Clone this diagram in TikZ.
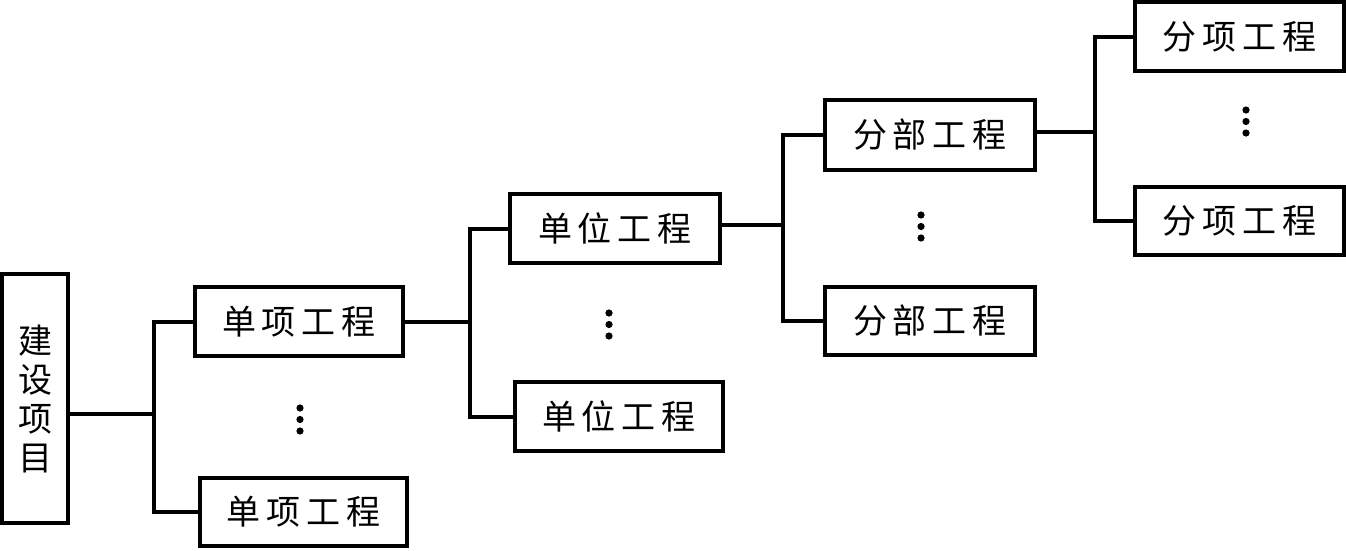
\documentclass[tikz,border=0pt]{standalone}
\usepackage{fontspec}
\newfontfamily\cjk{Noto Sans CJK SC}
\newcommand\cg{\hspace{6pt}}
\begin{document}
\begin{tikzpicture}[x=1pt,y=-1pt,
  box/.style={draw=black,line width=4pt,minimum width=#1,minimum height=69pt,inner sep=0pt,font=\cjk\fontsize{34pt}{40pt}\selectfont},
  box/.default=210pt,
  conn/.style={line width=4pt,line join=miter},
  dotc/.style={fill=black}]
\useasboundingbox (0,0) rectangle (1346,550);
% nodes
\node[draw=black,line width=4pt,minimum width=66pt,minimum height=249pt,inner sep=0pt,align=center,
  font=\cjk\fontsize{34pt}{39pt}\selectfont] (A) at (35,398.5) {建\\设\\项\\目};
\node[box=208pt] (B1) at (299,321.5) {单\cg 项\cg 工\cg 程};
\node[box=207pt,minimum height=68pt] (B2) at (303.5,512) {单\cg 项\cg 工\cg 程};
\node[box] (C1) at (615,228.5) {单\cg 位\cg 工\cg 程};
\node[box=208pt] (C2) at (619,416.5) {单\cg 位\cg 工\cg 程};
\node[box,minimum height=70pt] (D1) at (930,135) {分\cg 部\cg 工\cg 程};
\node[box,minimum height=68pt] (D2) at (930,321) {分\cg 部\cg 工\cg 程};
\node[box=209pt] (E1) at (1239.5,36.5) {分\cg 项\cg 工\cg 程};
\node[box=209pt,minimum height=68pt] (E2) at (1239.5,221) {分\cg 项\cg 工\cg 程};
% junctions
\coordinate (j1) at (154,414);
\coordinate (j2) at (470,322);
\coordinate (j3) at (783,225);
\coordinate (j4) at (1095,132);
% connectors
\draw[conn] (A.east |- j1) -- (j1);
\draw[conn] (B1.west) -| (j1) |- (B2.west);
\draw[conn] (B1.east |- j2) -- (j2);
\draw[conn] (C1.west) -| (j2) |- (C2.west);
\draw[conn] (C1.east |- j3) -- (j3);
\draw[conn] (D1.west) -| (j3) |- (D2.west);
\draw[conn] (D1.east |- j4) -- (j4);
\draw[conn] (E1.west) -| (j4) |- (E2.west);
% vertical ellipses
\foreach \x/\y in {300/408, 609/313, 921/215, 1246/110}{
  \fill[dotc] (\x,\y) circle (3.6pt);
  \fill[dotc] (\x,\y+11.5) circle (3.6pt);
  \fill[dotc] (\x,\y+23) circle (3.6pt);
}
\end{tikzpicture}
\end{document}
